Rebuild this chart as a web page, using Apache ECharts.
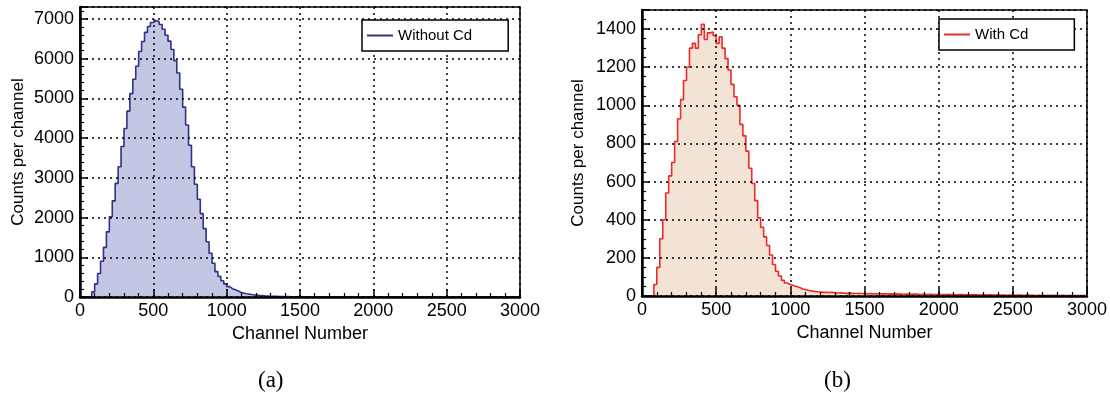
<!DOCTYPE html>
<html>
<head>
<meta charset="utf-8">
<script src="https://cdn.jsdelivr.net/npm/echarts@6/dist/echarts.min.js"></script>
<style>
html,body{margin:0;padding:0;background:#fff;}
#chart{width:1110px;height:398px;}
</style>
</head>
<body>
<div id="chart"></div>
<script>
// ---- data ----
const binWidth = 20; // channels per bin, bins start at channel 0
const xTicks = [0, 500, 1000, 1500, 2000, 2500, 3000];
const seriesNames = ['Without Cd', 'With Cd'];
const captions = ['(a)', '(b)'];

// Counts per channel, without Cd (bins of 20 channels from 0 to 3000)
const withoutCd = [
  0,0,0,10,130,330,590,900,1250,1640,
  2020,2420,2860,3280,3790,4240,4680,5120,5480,5810,
  6180,6430,6660,6810,6910,6960,6930,6860,6740,6590,
  6440,6230,5950,5640,5230,4780,4330,3820,3280,2840,
  2460,2100,1720,1390,1100,850,640,520,410,330,
  260,210,180,150,115,95,80,68,55,48,
  40,34,28,24,20,17,15,13,11,10,
  9,8,7,6,6,5,5,4,4,4,
  3,3,3,3,2,2,2,2,2,2,
  2,2,1,1,1,1,1,1,1,1,
  1,1,1,0,1,1,0,1,0,1,
  0,1,0,0,1,0,0,1,0,0,
  0,0,1,0,0,0,0,0,0,0,
  0,0,0,0,0,0,0,0,0,0,
  0,0,0,0,0,0,0,0,0,0
];

// Counts per channel, with Cd
const withCd = [
  0,0,0,0,60,150,300,400,540,630,
  700,810,930,1030,1130,1200,1300,1325,1300,1370,
  1425,1345,1380,1385,1365,1325,1360,1300,1245,1185,
  1110,1045,1000,900,840,760,670,590,500,410,
  360,310,265,215,165,130,105,82,68,60,
  55,50,46,38,34,30,27,25,22,21,
  19,20,18,19,17,16,17,15,14,15,
  14,13,14,13,12,12,13,11,12,12,
  11,12,10,11,10,11,10,9,10,10,
  9,10,9,8,9,8,9,8,8,7,
  8,7,8,7,7,6,7,7,6,6,
  6,7,6,5,6,5,6,5,5,6,
  5,5,4,5,5,4,5,4,4,5,
  4,4,3,4,4,3,4,3,4,3,
  3,4,3,3,3,2,3,3,2,3
];

function toSteps(vals) {
  const pts = vals.map((v, i) => [i * binWidth, v]);
  pts.push([vals.length * binWidth, vals[vals.length - 1]]);
  return pts;
}

const FONT = 'Liberation Sans, Arial, Helvetica, sans-serif';
const chart = echarts.init(document.getElementById('chart'), null, {renderer: 'canvas'});

function xAxisCfg(gi) {
  return {
    type: 'value', gridIndex: gi, min: xTicks[0], max: xTicks[xTicks.length - 1], interval: xTicks[1] - xTicks[0],
    z: 5,
    name: 'Channel Number', nameLocation: 'middle', nameGap: 23,
    nameTextStyle: {fontFamily: FONT, fontSize: 18, color: '#000'},
    axisLine: {show: true, onZero: false, lineStyle: {color: '#000', width: 2.5}},
    axisTick: {show: true, inside: true, length: 8, lineStyle: {color: '#000', width: 1.5}},
    minorTick: {show: true, splitNumber: 5, length: 4, lineStyle: {color: '#000', width: 1.2}},
    axisLabel: {fontFamily: FONT, fontSize: 18, color: '#000', margin: 5, formatter: v => String(v)},
    splitLine: {show: true, lineStyle: {color: '#000', type: [2, 4], width: 1.5}},
    minorSplitLine: {show: false}
  };
}
function yAxisCfg(gi, max, interval, minorSplit, gap) {
  return {
    type: 'value', gridIndex: gi, min: 0, max: max, interval: interval,
    z: 5,
    name: 'Counts per channel', nameLocation: 'middle', nameGap: gap,
    nameTextStyle: {fontFamily: FONT, fontSize: 17, color: '#000'},
    axisLine: {show: true, onZero: false, lineStyle: {color: '#000', width: 2.5}},
    axisTick: {show: true, inside: true, length: 8, lineStyle: {color: '#000', width: 1.5}},
    minorTick: {show: true, splitNumber: minorSplit, length: 4, lineStyle: {color: '#000', width: 1.2}},
    axisLabel: {fontFamily: FONT, fontSize: 18, color: '#000', margin: 6, showMaxLabel: false, formatter: v => String(v)},
    splitLine: {show: true, lineStyle: {color: '#000', type: [2, 4], width: 1.5}}
  };
}

const option = {
  animation: false,
  backgroundColor: '#fff',
  grid: [
    {left: 80, top: 7, width: 440, height: 290, show: true, borderColor: '#000', borderWidth: 1.5, backgroundColor: 'transparent'},
    {left: 642, top: 10, width: 445, height: 286, show: true, borderColor: '#000', borderWidth: 1.5, backgroundColor: 'transparent'}
  ],
  xAxis: [xAxisCfg(0), xAxisCfg(1)],
  yAxis: [yAxisCfg(0, 7300, 1000, 5, 53), yAxisCfg(1, 1500, 200, 4, 55)],
  legend: [
    {
      data: [seriesNames[0]], left: 362, top: 20, orient: 'vertical', z: 10,
      padding: [8, 36, 8, 5], itemWidth: 26, itemHeight: 2, itemGap: 0,
      icon: 'rect', borderColor: '#000', borderWidth: 1.5, backgroundColor: '#fff',
      textStyle: {fontFamily: FONT, fontSize: 15, color: '#000'}
    },
    {
      data: [seriesNames[1]], left: 939, top: 19, orient: 'vertical', z: 10,
      padding: [8, 46, 8, 5], itemWidth: 26, itemHeight: 2, itemGap: 0,
      icon: 'rect', borderColor: '#000', borderWidth: 1.5, backgroundColor: '#fff',
      textStyle: {fontFamily: FONT, fontSize: 15, color: '#000'}
    }
  ],
  series: [
    {
      name: seriesNames[0], type: 'line', xAxisIndex: 0, yAxisIndex: 0,
      step: 'end', symbol: 'none', data: toSteps(withoutCd), z: 2,
      lineStyle: {color: '#2f3285', width: 1.6},
      itemStyle: {color: '#2f3285'},
      areaStyle: {color: '#c3c7e4', opacity: 1}
    },
    {
      name: seriesNames[1], type: 'line', xAxisIndex: 1, yAxisIndex: 1,
      step: 'end', symbol: 'none', data: toSteps(withCd), z: 2,
      lineStyle: {color: '#ec2a2a', width: 1.6},
      itemStyle: {color: '#ec2a2a'},
      areaStyle: {color: '#f3e3d5', opacity: 1}
    }
  ],
  graphic: [
    {type: 'text', left: 258, top: 369, style: {text: captions[0], font: '23px "Liberation Serif", "DejaVu Serif", serif', fill: '#000'}},
    {type: 'text', left: 824, top: 369, style: {text: captions[1], font: '23px "Liberation Serif", "DejaVu Serif", serif', fill: '#000'}}
  ]
};
chart.setOption(option);
</script>
</body>
</html>
